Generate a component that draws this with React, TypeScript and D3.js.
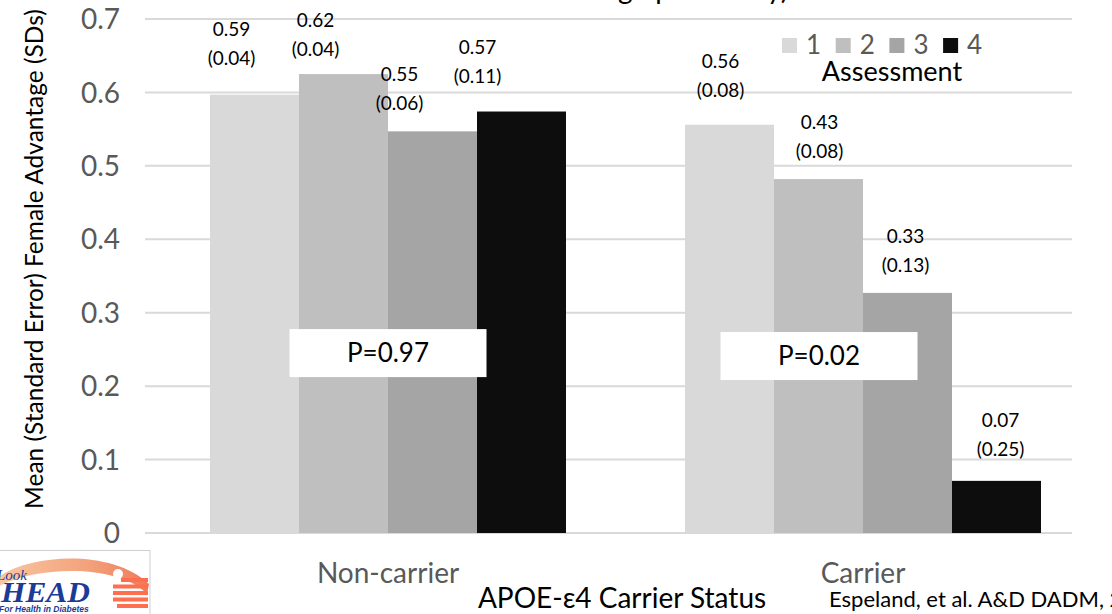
import React from "react";
import * as d3 from "d3";

// chart values
const statusGroups = ["Non-carrier", "Carrier"];
const assessments = ["1", "2", "3", "4"];
const nonCarrierMeans = [0.597, 0.625, 0.547, 0.574];
const carrierMeans = [0.556, 0.482, 0.327, 0.071];
const nonCarrierLabels = ["0.59", "0.62", "0.55", "0.57"];
const carrierLabels = ["0.56", "0.43", "0.33", "0.07"];
const nonCarrierSE = ["(0.04)", "(0.04)", "(0.06)", "(0.11)"];
const carrierSE = ["(0.08)", "(0.08)", "(0.13)", "(0.25)"];
const pValues = ["P=0.97", "P=0.02"];
const yTicks = [0, 0.1, 0.2, 0.3, 0.4, 0.5, 0.6, 0.7];

const barColors = ["#d9d9d9", "#bfbfbf", "#a5a5a5", "#0d0d0d"];
// hand placed data labels (px from bar centre / bar top), as on the slide
const labelNudge = [
    [[-23, 30], [-28, 18], [-33, 21], [-44, 29]],
    [[-9, 28], [1, 21], [-2, 21], [4, 25]],
];
const pBoxNudge = [[0, 0.245], [-44, 0.241]];

const FONT = "Lato, 'Open Sans', sans-serif";
const width = 1112;
const height = 614;

const LookAheadLogo = () => (
    <g>
        <defs>
            <linearGradient id="swoosh" x1="0" x2="1" y1="0" y2="0">
                <stop offset="0" stopColor="#f8c8a4" />
                <stop offset="0.6" stopColor="#f3a27c" />
                <stop offset="1" stopColor="#ef7a58" />
            </linearGradient>
            <clipPath id="logoClip">
                <rect x={0} y={551} width={150} height={63} />
            </clipPath>
        </defs>
        <rect x={-2} y={550.5} width={152} height={70} fill="#fff" stroke="#cfcfcf" />
        <g clipPath="url(#logoClip)">
            <path d="M-5,579 C30,553 112,549 149,584 L147,594 C122,566 40,563 -5,588 Z" fill="url(#swoosh)" />
            <circle cx={118} cy={574} r={5} fill="#fff" />
            {[578, 584.5, 591, 597.5, 604].map((sy, i) => (
                <rect key={i} x={113 + (i === 0 ? 8 : i === 4 ? 4 : 0)} y={sy} width={35 - (i === 0 ? 8 : i === 4 ? 4 : 0)} height={4} fill="#ff6e4e" />
            ))}
            <text x={-3} y={580} fontFamily="'Liberation Serif', serif" fontStyle="italic" fontSize={15} fill="#1b3c96">Look</text>
            <text x={-20} y={602} fontFamily="'Liberation Serif', serif" fontStyle="italic" fontWeight="bold" fontSize={30} fill="#1b3c96" textLength={110} lengthAdjust="spacingAndGlyphs">AHEAD</text>
            <text x={-1} y={612} fontFamily="'Liberation Sans', sans-serif" fontStyle="italic" fontWeight="bold" fontSize={8.5} fill="#1b3c96">For Health in Diabetes</text>
        </g>
    </g>
);

export default function App() {
    const y = d3.scaleLinear().domain([0, 0.7]).range([533, 19]);
    const x0 = d3.scaleBand().domain(statusGroups).range([150.5, 1100.5]).padding(0);
    const groupWidth = 356;
    const x1 = d3.scaleBand().domain(assessments).range([0, groupWidth]).padding(0);
    const groupStart = (g: string) => (x0(g) as number) + (x0.bandwidth() - groupWidth) / 2;

    const series = [
        { group: statusGroups[0], means: nonCarrierMeans, labels: nonCarrierLabels, se: nonCarrierSE },
        { group: statusGroups[1], means: carrierMeans, labels: carrierLabels, se: carrierSE },
    ];

    return (
        <svg width={width} height={height} style={{ position: "absolute", left: 0, top: 0, background: "#fff" }} fontFamily={FONT}>
            {/* slide title, cut off by the top edge */}
            <text x={545} y={-1} fontSize={28} fill="#000">Testing up to Study)</text>

            {/* gridlines */}
            {yTicks.map((t) => (
                <line key={t} x1={145} x2={1072} y1={y(t)} y2={y(t)} stroke="#d9d9d9" strokeWidth={2} />
            ))}

            {/* y tick labels */}
            {yTicks.map((t) => (
                <text key={t} x={120} y={y(t)} dy="0.36em" textAnchor="end" fontSize={28} fill="#595959">
                    {t === 0 ? "0" : d3.format(".1f")(t)}
                </text>
            ))}

            {/* bars */}
            {series.map((s) => (
                <g key={s.group} transform={`translate(${groupStart(s.group)},0)`}>
                    {s.means.map((v, i) => (
                        <rect key={i} x={x1(assessments[i])} y={y(v)} width={x1.bandwidth()} height={y(0) - y(v)} fill={barColors[i]} />
                    ))}
                </g>
            ))}

            {/* data labels */}
            {series.map((s, gi) => (
                <g key={s.group} transform={`translate(${groupStart(s.group)},0)`} fontSize={19} fill="#000" textAnchor="middle">
                    {s.means.map((v, i) => {
                        const cx = (x1(assessments[i]) as number) + x1.bandwidth() / 2 + labelNudge[gi][i][0];
                        const base = y(v) - labelNudge[gi][i][1];
                        return (
                            <g key={i}>
                                <text x={cx} y={base - 29}>{s.labels[i]}</text>
                                <text x={cx} y={base}>{s.se[i]}</text>
                            </g>
                        );
                    })}
                </g>
            ))}

            {/* p-value boxes */}
            {statusGroups.map((g, gi) => {
                const cx = (x0(g) as number) + x0.bandwidth() / 2 + pBoxNudge[gi][0];
                const cy = y(pBoxNudge[gi][1]);
                return (
                    <g key={g}>
                        <rect x={cx - 98.5} y={cy - 24} width={197} height={48} fill="#fff" />
                        <text x={cx} y={cy} dy="0.36em" textAnchor="middle" fontSize={26} fill="#000">{pValues[gi]}</text>
                    </g>
                );
            })}

            {/* legend */}
            <g>
                {assessments.map((a, i) => (
                    <g key={a} transform={`translate(${782 + i * 53.7},38)`}>
                        <rect width={15} height={15} fill={barColors[i]} />
                        <text x={24} y={15.5} fontSize={26} fill="#595959">{a}</text>
                    </g>
                ))}
                <text x={892} y={81} textAnchor="middle" fontSize={27} fill="#000">Assessment</text>
            </g>

            {/* category labels */}
            {statusGroups.map((g) => (
                <text key={g} x={(x0(g) as number) + x0.bandwidth() / 2} y={583} textAnchor="middle" fontSize={28} fill="#595959">{g}</text>
            ))}

            {/* axis titles */}
            <text x={622} y={608} textAnchor="middle" fontSize={28} fill="#000">APOE-ε4 Carrier Status</text>
            <text transform="translate(43,259) rotate(-90)" textAnchor="middle" fontSize={24.5} fill="#000">
                Mean (Standard Error) Female Advantage (SDs)
            </text>

            {/* citation */}
            <text x={829} y={607} fontSize={22} fill="#000">Espeland, et al. A&amp;D DADM, 2019</text>

            <LookAheadLogo />
        </svg>
    );
}
